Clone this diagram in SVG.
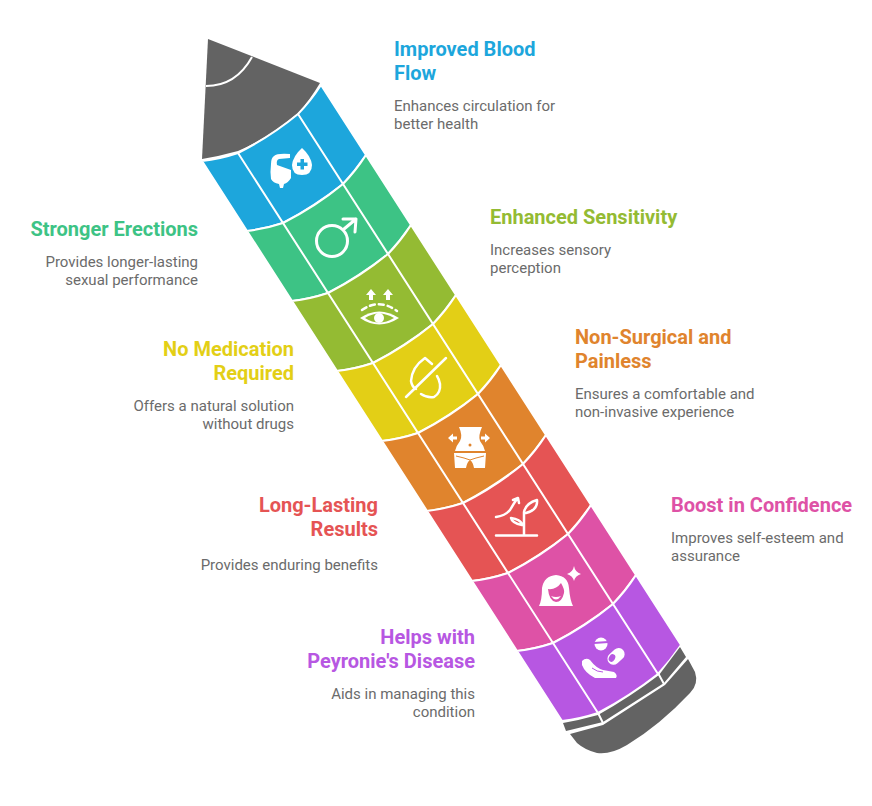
<svg xmlns="http://www.w3.org/2000/svg" xmlns:xlink="http://www.w3.org/1999/xlink" width="872" height="806" viewBox="0 0 872 806">
<style>
text{font-family:Roboto,"Liberation Sans",sans-serif}
.t{font-size:20px;font-weight:700}
.d{font-size:15px;fill:#6b6b6b}
.e{text-anchor:end}
.s{stroke:#fff;stroke-width:2;stroke-linejoin:round}
.g{fill:#636363}
.i{fill:#fff;stroke:none}
.o{fill:none;stroke:#fff;stroke-width:3;stroke-linecap:round;stroke-linejoin:round}
.o2{fill:none;stroke:#fff;stroke-width:2.500;stroke-linecap:round;stroke-linejoin:round}
.l{fill:none;stroke:#fff;stroke-width:2}
</style>
<defs>
<path id="seg" class="s" d="M202,161Q220,159 238,153Q270,137 298,114Q310,102 321,85L366,155Q355,171 343,184Q315,206 283,223Q265,229 247,231Z"/>
</defs>
<rect width="872" height="806" fill="#fff"/>
<g id="pencil-tip">
<path class="g" d="M208,39L320,83Q310,100 298,113Q270,137 238,151Q220,156 202,159Z"/>
<path class="l" d="M252,57Q236,86 206,86"/>
</g>
<g id="improved-blood-flow">
<use xlink:href="#seg" href="#seg" fill="#1DA6DC"/>
<path class="i" d="M274,156Q277,153 290,154L290,158L279,159Q276,160 277,165L291,170L291,178Q288,183 284,184L283,188L280,188L279,184Q273,183 271,179Q270,172 271,164Q271,158 274,156Z"/>
<path class="i" d="M302,148Q311,156 312,165Q312,175 302,175Q292,175 292,165Q293,156 302,148Z"/>
<path fill="#1DA6DC" d="M300.500,159h3.500v3.500h3.500v3.500h-3.500v3.500h-3.500v-3.500h-3.500v-3.500h3.500z"/>
<text class="t" x="394" y="56" fill="#1DA6DC">Improved Blood</text>
<text class="t" x="394" y="80" fill="#1DA6DC">Flow</text>
<text class="d" x="394" y="111">Enhances circulation for</text>
<text class="d" x="394" y="129">better health</text>
</g>
<g id="stronger-erections">
<use xlink:href="#seg" href="#seg" transform="translate(45,70)" fill="#3DC385"/>
<circle class="o" cx="332" cy="241" r="15.500"/>
<path class="o" d="M344,229L356,219M343,219L356,219L355,232"/>
<text class="t e" x="198" y="236" fill="#3DC385">Stronger Erections</text>
<text class="d e" x="198" y="267">Provides longer-lasting</text>
<text class="d e" x="198" y="285">sexual performance</text>
</g>
<g id="enhanced-sensitivity">
<use xlink:href="#seg" href="#seg" transform="translate(90,140)" fill="#94BB33"/>
<path class="i" d="M360,318Q379,305 399,318Q379,331 360,318Z"/>
<path d="M365,318Q379,309 394,318Q379,327 365,318Z" fill="#94BB33"/>
<circle class="i" cx="379" cy="318" r="5"/>
<path class="o2" d="M362,310Q379,298 397,311" stroke-dasharray="5 4" stroke-linecap="butt"/>
<path class="i" d="M371,289l-5,6h3v5h4v-5h3zM388,289l-5,6h3v5h4v-5h3z"/>
<text class="t" x="490" y="224" fill="#94BB33">Enhanced Sensitivity</text>
<text class="d" x="490" y="255">Increases sensory</text>
<text class="d" x="490" y="273">perception</text>
</g>
<g id="no-medication-required">
<use xlink:href="#seg" href="#seg" transform="translate(135,210)" fill="#E3CF16"/>
<path class="o2" d="M406,397L446,358"/>
<path class="o2" d="M432,364L425,358Q412,367 411,381Q412,387 416,389M421,394Q427,398 434,397Q441,393 440,384Q439,379 437,376"/>
<text class="t e" x="294" y="356" fill="#E3CF16">No Medication</text>
<text class="t e" x="294" y="380" fill="#E3CF16">Required</text>
<text class="d e" x="294" y="411">Offers a natural solution</text>
<text class="d e" x="294" y="429">without drugs</text>
</g>
<g id="non-surgical-and-painless">
<use xlink:href="#seg" href="#seg" transform="translate(180,280)" fill="#E0842D"/>
<path class="i" d="M459,427L482,427Q478,436 480,441Q484,446 485,451L455,451Q456,446 460,441Q463,436 459,427Z"/>
<path class="i" d="M454,453L486,453L485,468L474,468Q473,462 470,460Q467,462 466,468L455,468Z"/>
<path d="M456,456Q465,458 470,460Q475,458 484,456" fill="none" stroke="#E0842D" stroke-width="1"/>
<circle cx="470" cy="445" r="1.500" fill="#E0842D"/>
<path class="i" d="M448,438l5,-4.500v3h4v3h-4v3zM490,438l-5,-4.500v3h-4v3h4v3z"/>
<text class="t" x="575" y="344" fill="#E0842D">Non-Surgical and</text>
<text class="t" x="575" y="368" fill="#E0842D">Painless</text>
<text class="d" x="575" y="399">Ensures a comfortable and</text>
<text class="d" x="575" y="417">non-invasive experience</text>
</g>
<g id="long-lasting-results">
<use xlink:href="#seg" href="#seg" transform="translate(225,350)" fill="#E55454"/>
<path class="o2" d="M496,535.500L537,535.500M524,535L524,512Q526,503 537,500Q538,510 526,513M523,525Q520,519 511,518Q512,523 522,525"/>
<path class="o2" d="M496,517Q505,516 510,510Q514,503 517,499M513,500L518,498L519,503"/>
<text class="t e" x="378" y="512" fill="#E55454">Long-Lasting</text>
<text class="t e" x="378" y="536" fill="#E55454">Results</text>
<text class="d e" x="378" y="570">Provides enduring benefits</text>
</g>
<g id="boost-in-confidence">
<use xlink:href="#seg" href="#seg" transform="translate(270,420)" fill="#DE52A6"/>
<path class="i" d="M556,575Q568,576 569,588Q570,600 573,606L539,606Q542,600 542,588Q544,576 556,575Z"/>
<path d="M548,589Q556,590 561,583Q565,590 564,593Q562,602 556,602Q549,601 548,589Z" fill="#DE52A6"/>
<path class="i" d="M551,596Q556,598 561,596Q556,603 551,596Z"/>
<path class="i" d="M574,566Q575,572 581,574Q575,576 574,581Q573,576 567,574Q573,572 574,566Z"/>
<text class="t" x="671" y="512" fill="#DE52A6">Boost in Confidence</text>
<text class="d" x="671" y="543">Improves self-esteem and</text>
<text class="d" x="671" y="561">assurance</text>
</g>
<g id="helps-with-peyronies">
<use xlink:href="#seg" href="#seg" transform="translate(315,490)" fill="#B757E2"/>
<circle class="i" cx="601" cy="644" r="6.500"/>
<path d="M594,643L608,642" stroke="#B757E2" stroke-width="2" fill="none"/>
<rect class="i" x="606" y="651" width="19" height="12" rx="6" transform="rotate(-42 615 656)"/>
<ellipse cx="612" cy="658" rx="3" ry="4" fill="#B757E2" transform="rotate(30 612 658)"/>
<path class="i" d="M582,661Q586,657 590,660Q596,668 603,670L614,672Q618,675 616,678L595,678Q585,673 582,665Z"/>
<path d="M592,668Q597,672 603,672" stroke="#B757E2" stroke-width="1" fill="none"/>
<text class="t e" x="475" y="644" fill="#B757E2">Helps with</text>
<text class="t e" x="475" y="668" fill="#B757E2">Peyronie's Disease</text>
<text class="d e" x="475" y="699">Aids in managing this</text>
<text class="d e" x="475" y="717">condition</text>
</g>
<g id="pencil-base">
<path class="g" d="M563,723Q580,720 598,715Q630,697 659,675L680,647L686,657L664,683L603,722L566,731Z"/>
<path class="l" d="M598,713L603,723M658,673L664,684"/>
<path class="g" d="M570,734L603,725L665,685L688,659L695,672Q699,684 690,693Q660,725 627,745Q610,755 597,753Q585,750 577,743Z"/>
</g>
<g id="dividers">
<path class="l" d="M238,153L598,713M298,114L658,674"/>
</g>
</svg>
